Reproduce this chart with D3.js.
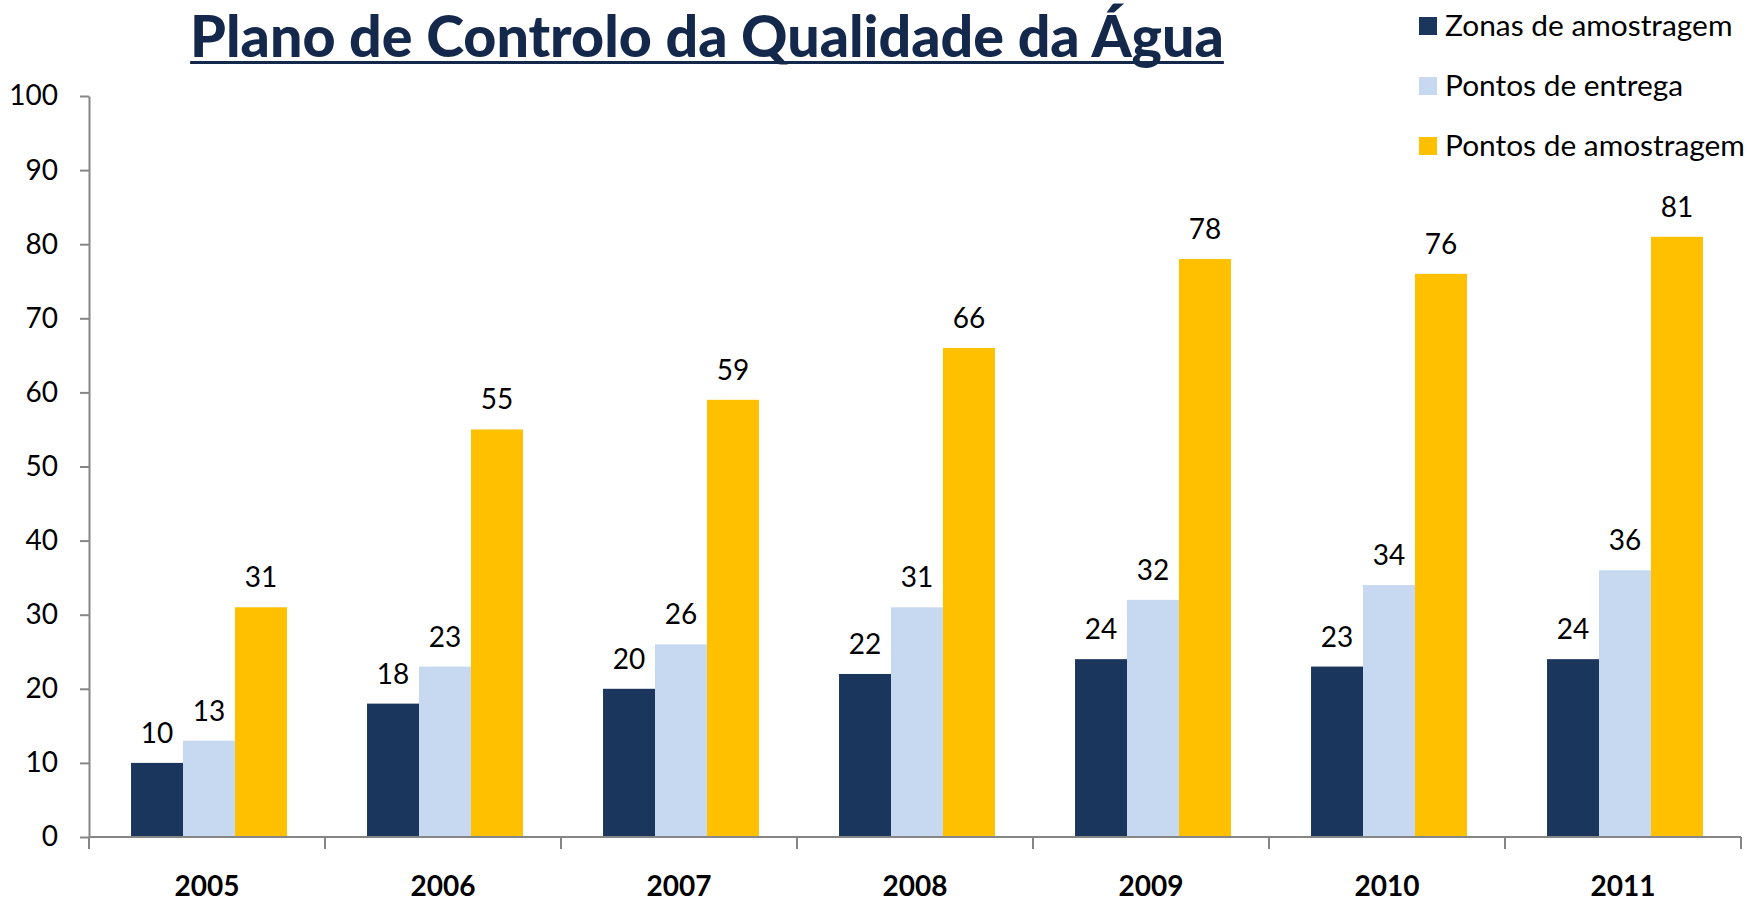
<!DOCTYPE html>
<html><head><meta charset="utf-8">
<script src="https://cdn.jsdelivr.net/npm/d3@7"></script>
<style>
html,body{margin:0;padding:0;background:#fff;}
svg{display:block;}
text{font-family:Lato,"Open Sans",sans-serif;}
</style></head>
<body>
<svg id="chart" width="1748" height="906"></svg>
<script>
const title = "Plano de Controlo da Qualidade da Água";
const categories = ["2005","2006","2007","2008","2009","2010","2011"];
const seriesNames = ["Zonas de amostragem","Pontos de entrega","Pontos de amostragem"];
const zonasAmostragem = [10,18,20,22,24,23,24];
const pontosEntrega = [13,23,26,31,32,34,36];
const pontosAmostragem = [31,55,59,66,78,76,81];
const yTicks = [0,10,20,30,40,50,60,70,80,90,100];
const colors = ["#1B365D","#C6D9F1","#FFC000"];

const series = [zonasAmostragem, pontosEntrega, pontosAmostragem];
const svg = d3.select("#chart");
const m = {left:89, right:1741, top:96, bottom:837};

const x = d3.scaleBand().domain(categories).range([m.left, m.right]).paddingInner(0).paddingOuter(0);
const inner = d3.scaleBand().domain(d3.range(3)).range([0, x.bandwidth()]).paddingOuter(0.77).paddingInner(0);
const y = d3.scaleLinear().domain([0,100]).range([m.bottom, m.top]);
const shift = 2;

// bars
categories.forEach((c,i)=>{
  series.forEach((s,j)=>{
    svg.append("rect")
      .attr("x", x(c)+inner(j)+shift)
      .attr("y", y(s[i]))
      .attr("width", inner.bandwidth())
      .attr("height", y(0)-y(s[i]))
      .attr("fill", colors[j]);
    svg.append("text")
      .attr("x", x(c)+inner(j)+shift+inner.bandwidth()/2)
      .attr("y", y(s[i])-20)
      .attr("text-anchor","middle")
      .attr("font-size",28)
      .attr("fill","#000")
      .text(s[i]);
  });
});

// y axis
const yAxis = svg.append("g").attr("transform",`translate(${m.left},0)`)
  .call(d3.axisLeft(y).tickValues(yTicks).tickSize(9).tickPadding(22).tickSizeOuter(0));
yAxis.select(".domain").attr("stroke","#868686").attr("stroke-width",2);
yAxis.selectAll(".tick line").attr("stroke","#868686").attr("stroke-width",2);
yAxis.selectAll(".tick text").attr("font-size",28).attr("fill","#000").attr("font-family","Lato");

// x axis
const xAxis = svg.append("g").attr("transform",`translate(0,${m.bottom})`)
  .call(d3.axisBottom(x).tickSize(0).tickPadding(39));
xAxis.select(".domain").attr("stroke","#868686").attr("stroke-width",2).attr("d",`M${m.left},0H${m.right}`);
xAxis.selectAll(".tick text").attr("font-size",28).attr("font-weight","bold").attr("fill","#000").attr("font-family","Lato");
// category separators
const seps = categories.map(c=>x(c)).concat([m.right]);
xAxis.selectAll(".sep").data(seps).enter().append("line")
  .attr("x1",d=>d).attr("x2",d=>d).attr("y1",0).attr("y2",12)
  .attr("stroke","#868686").attr("stroke-width",2);

// title
const t = svg.append("text").attr("x",707).attr("y",57).attr("text-anchor","middle")
  .attr("font-weight",900).attr("font-size",52).attr("fill","#14284B").text(title);
const tw = t.node().getComputedTextLength();
t.attr("font-size", 52*1034/tw);
const tw2 = t.node().getComputedTextLength();
svg.append("rect").attr("x",707-tw2/2).attr("y",61).attr("width",tw2).attr("height",3).attr("fill","#14284B");

// legend
const ly = [26,86,146];
const legTexts = seriesNames.map((n,j)=>{
  svg.append("rect").attr("x",1419).attr("y",ly[j]-9).attr("width",18).attr("height",18).attr("fill",colors[j]);
  return svg.append("text").attr("x",1445).attr("y",ly[j]).attr("dy","0.35em")
    .attr("font-size",26).attr("fill","#000").text(n);
});
const lw = legTexts[2].node().getComputedTextLength();
const lfs = 26*300/lw;
legTexts.forEach(tt=>tt.attr("font-size",lfs));
</script>
</body></html>
